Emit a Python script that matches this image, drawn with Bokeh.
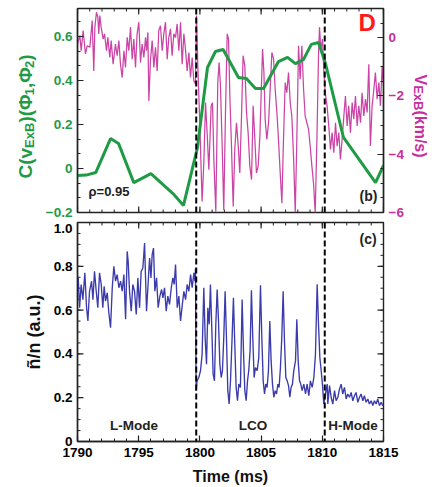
import numpy as np
from bokeh.plotting import figure
from bokeh.models import LinearAxis, Range1d, SingleIntervalTicker, FixedTicker, Span, Label
from bokeh.layouts import column, row
from bokeh.embed import file_html
from bokeh.resources import INLINE

# ---------------- data ----------------
# correlation C(vExB)(phi1,phi2)  (left axis, top panel)
t_corr = [1790.0, 1790.7, 1791.5, 1792.7, 1793.35, 1794.6, 1796.0, 1797.8, 1798.66, 1799.8,
          1800.62, 1801.27, 1801.9, 1803.15, 1803.8, 1804.54, 1805.2, 1806.42, 1807.16, 1807.8,
          1808.46, 1809.1, 1809.69, 1810.26, 1811.73, 1814.35, 1815.0]
c_corr = [-0.032, -0.03, -0.018, 0.136, 0.114, -0.064, -0.023, -0.114, -0.168, 0.095,
          0.459, 0.532, 0.541, 0.414, 0.409, 0.364, 0.364, 0.486, 0.505, 0.477,
          0.495, 0.564, 0.573, 0.477, 0.141, -0.064, 0.014]

# v_ExB (km/s)  (right axis, top panel)
t_v_L = [1790.0, 1790.19, 1790.30, 1790.46, 1790.65, 1790.79, 1791.01, 1791.20, 1791.33, 1791.42,
         1791.55, 1791.66, 1791.74, 1791.82, 1791.93, 1792.10, 1792.21, 1792.37, 1792.48, 1792.64,
         1792.75, 1792.91, 1793.10, 1793.24, 1793.38, 1793.51, 1793.65, 1793.79, 1793.92, 1794.06,
         1794.19, 1794.33, 1794.47, 1794.60, 1794.74, 1794.87, 1795.01, 1795.15, 1795.28, 1795.42,
         1795.56, 1795.64, 1795.75, 1795.83, 1795.96, 1796.10, 1796.24, 1796.37, 1796.51, 1796.64,
         1796.78, 1796.92, 1797.05, 1797.19, 1797.33, 1797.46, 1797.60, 1797.73, 1797.87, 1798.01,
         1798.14, 1798.28, 1798.42, 1798.55, 1798.69, 1798.82, 1798.96, 1799.10, 1799.23, 1799.37,
         1799.50, 1799.64]
v_L = [-0.22, 0.07, -0.45, 0.24, -0.56, -0.28, -0.33, 0.59, -1.14, 0.36,
       0.87, 0.70, 0.13, 0.76, 0.36, -0.05, 0.13, -0.45, 0.01, -0.68,
       -0.10, -0.91, -0.22, -0.62, -0.10, -0.91, -1.37, -0.45, -1.02, 0.01,
       -0.45, 0.36, -0.74, -0.05, -1.02, 0.13, 0.53, -0.85, -0.22, -0.68,
       0.01, -0.45, 0.18, -2.17, -0.79, -0.10, -1.02, -0.33, -1.14, 0.24,
       0.41, -0.45, 0.13, 0.53, -0.74, 0.01, 0.30, -0.62, 0.13, 0.01,
       0.47, -0.45, 0.53, -0.91, 0.13, -0.39, -1.14, -0.51, -1.37, -0.68,
       -1.48, -1.60]
t_v_LCO = [1799.72, 1799.83, 1799.99, 1800.18, 1800.32, 1800.46, 1800.59, 1800.73, 1800.92, 1801.03,
           1801.14, 1801.30, 1801.46, 1801.57, 1801.68, 1801.82, 1801.95, 1802.09, 1802.23, 1802.34,
           1802.44, 1802.58, 1802.72, 1802.85, 1802.99, 1803.13, 1803.26, 1803.40, 1803.53, 1803.67,
           1803.81, 1803.94, 1804.08, 1804.22, 1804.35, 1804.49, 1804.62, 1804.76, 1804.90,
           1805.12, 1805.23, 1805.33, 1805.47, 1805.61, 1805.74, 1805.88, 1806.02, 1806.15, 1806.29,
           1806.42, 1806.56, 1806.70, 1806.83, 1806.97, 1807.10, 1807.24, 1807.38, 1807.51, 1807.65,
           1807.79, 1807.92, 1808.06, 1808.19, 1808.33, 1808.47, 1808.60, 1808.74, 1808.88, 1809.01,
           1809.15, 1809.28, 1809.42, 1809.56, 1809.69, 1809.77, 1809.88, 1810.02, 1810.13, 1810.24]
v_LCO = [0.76, -0.97, -2.92, -5.62, -4.30, -2.23, -3.26, -4.53, -2.34, -2.23,
         -4.18, -5.97, -1.54, -0.85, -1.66, -3.72, -5.91, -2.57, 0.13, -0.05,
         -1.89, -3.72, -5.79, -3.84, -2.92, -3.72, -4.64, -2.69, -0.62, -0.97,
         -2.57, -3.26, -4.41, -4.87, -2.34, -3.49, -4.64, -4.41, -3.38,
         -0.39, -1.20, -2.80, -3.49, -2.92, -1.77, -0.51, -0.74, -1.77, -2.57,
         -3.49, -4.64, -5.68, -3.49, -1.54, -1.89, -1.20, -2.23, -2.69, -4.07,
         -6.0, -3.49, -0.28, -1.43, -0.28, -1.77, -2.69, -2.92, -3.15, -3.72,
         -4.41, -4.99, -6.0, -3.49, -0.62, 0.36, -0.39, -0.05, -1.20, -1.89]
t_v_H = [1810.39, 1810.53, 1810.67, 1810.80, 1810.94, 1811.08, 1811.21, 1811.35, 1811.48, 1811.62,
         1811.76, 1811.89, 1812.03, 1812.16, 1812.30, 1812.44, 1812.57, 1812.71, 1812.85, 1812.98,
         1813.12, 1813.25, 1813.39, 1813.53, 1813.66, 1813.80, 1813.93, 1814.07, 1814.21, 1814.34,
         1814.48, 1814.62, 1814.75, 1814.89, 1815.0]
v_H = [-2.34, -3.03, -3.84, -3.26, -3.95, -2.92, -3.72, -3.26, -4.18, -3.49,
       -2.69, -2.00, -3.03, -2.34, -3.26, -2.23, -2.80, -2.00, -3.03, -2.34,
       -2.92, -1.89, -2.69, -2.11, -2.57, -0.91, -3.72, -2.34, -1.77, -1.20,
       -2.11, -1.54, -2.34, -0.97, -1.66]

# density fluctuation n~/n (bottom panel)
t_n_L = [1790.0, 1790.06, 1790.17, 1790.30, 1790.44, 1790.60, 1790.74, 1790.85, 1790.98, 1791.15,
         1791.26, 1791.39, 1791.53, 1791.66, 1791.80, 1791.94, 1792.07, 1792.18, 1792.29, 1792.43,
         1792.56, 1792.70, 1792.84, 1792.97, 1793.11, 1793.24, 1793.38, 1793.52, 1793.65, 1793.79,
         1793.93, 1794.06, 1794.14, 1794.25, 1794.39, 1794.52, 1794.66, 1794.80, 1794.93, 1795.07,
         1795.20, 1795.34, 1795.48, 1795.56, 1795.64, 1795.78, 1795.89, 1796.00, 1796.10, 1796.21,
         1796.32, 1796.46, 1796.59, 1796.73, 1796.87, 1796.98, 1797.11, 1797.25, 1797.38, 1797.52,
         1797.66, 1797.79, 1797.90, 1798.01, 1798.15, 1798.28, 1798.42, 1798.55, 1798.69, 1798.83,
         1798.96, 1799.10, 1799.24, 1799.37, 1799.51, 1799.59, 1799.64]
n_L = [0.686, 0.747, 0.611, 0.717, 0.648, 0.770, 0.611, 0.55, 0.686, 0.732,
       0.648, 0.777, 0.686, 0.611, 0.770, 0.717, 0.611, 0.709, 0.641, 0.679,
       0.588, 0.520, 0.702, 0.80, 0.732, 0.762, 0.702, 0.732, 0.686, 0.762,
       0.558, 0.868, 0.823, 0.686, 0.595, 0.717, 0.686, 0.580, 0.747, 0.611,
       0.777, 0.792, 0.906, 0.747, 0.595, 0.732, 0.838, 0.747, 0.853, 0.883,
       0.686, 0.747, 0.611, 0.664, 0.694, 0.656, 0.702, 0.595, 0.664, 0.626,
       0.702, 0.747, 0.717, 0.808, 0.611, 0.664, 0.55, 0.618, 0.686, 0.648,
       0.717, 0.686, 0.762, 0.702, 0.770, 0.732, 0.79]
t_n_LCO = [1799.69, 1799.77, 1799.91, 1800.05, 1800.18, 1800.32, 1800.43, 1800.54, 1800.65, 1800.76,
           1800.86, 1800.97, 1801.08, 1801.19, 1801.30, 1801.41, 1801.52, 1801.63, 1801.74, 1801.84,
           1801.95, 1802.06, 1802.17, 1802.28, 1802.39, 1802.50, 1802.63, 1802.74, 1802.85, 1802.96,
           1803.07, 1803.18, 1803.31, 1803.45, 1803.56, 1803.67, 1803.78, 1803.89, 1803.99, 1804.10,
           1804.21, 1804.32, 1804.43, 1804.54, 1804.68, 1804.81, 1804.95, 1805.06, 1805.17, 1805.28,
           1805.38, 1805.49, 1805.60, 1805.71, 1805.82, 1805.93, 1806.04, 1806.15, 1806.26, 1806.37,
           1806.47, 1806.58, 1806.69, 1806.80, 1806.91, 1807.02, 1807.13, 1807.24, 1807.35, 1807.45,
           1807.56, 1807.67, 1807.81, 1807.92, 1808.03, 1808.14, 1808.24, 1808.35, 1808.49, 1808.63,
           1808.76, 1808.90, 1809.03, 1809.17, 1809.31, 1809.44, 1809.58, 1809.69, 1809.80, 1809.91,
           1810.01, 1810.12, 1810.26, 1810.40]
n_LCO = [0.232, 0.277, 0.292, 0.323, 0.398, 0.702, 0.474, 0.353, 0.611, 0.535,
         0.717, 0.520, 0.308, 0.277, 0.535, 0.694, 0.55, 0.353, 0.292, 0.323,
         0.474, 0.686, 0.474, 0.232, 0.171, 0.277, 0.474, 0.656, 0.444, 0.247,
         0.186, 0.262, 0.247, 0.648, 0.414, 0.232, 0.186, 0.277, 0.323, 0.414,
         0.690, 0.474, 0.292, 0.338, 0.323, 0.383, 0.713, 0.474, 0.277, 0.217,
         0.262, 0.247, 0.323, 0.55, 0.368, 0.262, 0.202, 0.232, 0.217, 0.262,
         0.247, 0.338, 0.474, 0.686, 0.459, 0.292, 0.277, 0.255, 0.202, 0.247,
         0.262, 0.323, 0.368, 0.558, 0.368, 0.277, 0.262, 0.232, 0.262, 0.217,
         0.262, 0.209, 0.277, 0.247, 0.292, 0.398, 0.718, 0.535, 0.383, 0.323,
         0.262, 0.171, 0.217, 0.262]
t_n_H = [1810.45, 1810.59, 1810.72, 1810.86, 1811.0, 1811.13, 1811.27, 1811.40, 1811.54, 1811.67,
         1811.81, 1811.95, 1812.08, 1812.22, 1812.36, 1812.49, 1812.63, 1812.76, 1812.90, 1813.04,
         1813.17, 1813.31, 1813.44, 1813.58, 1813.72, 1813.85, 1813.99, 1814.13, 1814.26, 1814.40,
         1814.53, 1814.67, 1814.81, 1814.94, 1815.0]
n_H = [0.171, 0.255, 0.202, 0.171, 0.232, 0.186, 0.202, 0.239, 0.262, 0.217,
       0.247, 0.194, 0.217, 0.202, 0.224, 0.186, 0.209, 0.224, 0.179, 0.202,
       0.217, 0.186, 0.209, 0.179, 0.194, 0.171, 0.186, 0.164, 0.186, 0.171,
       0.194, 0.164, 0.179, 0.164, 0.171]

transitions = [1799.7, 1810.2]
x_major = [1790, 1795, 1800, 1805, 1810, 1815]
x_minor = list(range(1790, 1816))
n_major = [0.0, 0.2, 0.4, 0.6, 0.8, 1.0]
n_minor = [round(0.05 * i, 2) for i in range(21)]
n_tick_labels = ["0", "0.2", "0.4", "0.6", "0.8", "1.0"]
# ---------------------------------------------------------------

t_v = np.concatenate([t_v_L, t_v_LCO, t_v_H])
v_all = np.concatenate([v_L, v_LCO, v_H])
t_n = np.concatenate([t_n_L, t_n_LCO, t_n_H])
n_all = np.concatenate([n_L, n_LCO, n_H])

FONT = "Liberation Sans"
GREEN = "#1f9a45"
MAG = "#c4309c"
BLUE = "#3b3bac"
INK = "#222222"

X0, X1 = 1790, 1815
TL = (-0.2, 0.72727)
TR = (-6.0, 1.0)
BL = (0.0, 1.0)

FW, FH_TOP, FH_BOT = 306, 204, 219
LEFT, RIGHT = 77, 54
P1_LEFT, P1_RIGHT = 40, 28         # borders of the top figure (room for its tick labels)
STRIP_L, STRIP_R = LEFT - P1_LEFT, RIGHT - P1_RIGHT   # side strips holding the rotated titles
TOP1, BOT1 = 8, 8                  # top figure borders  -> canvas height 220
TOP2, BOT2 = 2, 46                 # bottom figure borders -> canvas height 267
H1 = TOP1 + FH_TOP + BOT1
H2 = TOP2 + FH_BOT + BOT2


def px2x(px):
    return X0 + (px - LEFT) * (X1 - X0) / FW


def py2top(py):
    return TL[0] + (TOP1 + FH_TOP - py) * (TL[1] - TL[0]) / FH_TOP


def py2bot(py):
    return BL[0] + (H1 + TOP2 + FH_BOT - py) * (BL[1] - BL[0]) / FH_BOT


def style(ax, color="black", size="13.5px"):
    ax.major_tick_in = 6
    ax.major_tick_out = 0
    ax.minor_tick_in = 3
    ax.minor_tick_out = 0
    ax.axis_line_width = 1.4
    ax.axis_line_color = INK
    ax.major_tick_line_color = INK
    ax.minor_tick_line_color = INK
    ax.major_tick_line_width = 1.2
    ax.minor_tick_line_width = 1.0
    ax.major_label_text_font = FONT
    ax.major_label_text_font_style = "bold"
    ax.major_label_text_font_size = size
    ax.major_label_text_color = color
    ax.major_label_standoff = 5


def base_fig(fh, left, right, top, bottom, yr):
    p = figure(frame_width=FW, frame_height=fh, output_backend="svg", toolbar_location=None,
               x_range=Range1d(X0, X1), y_range=Range1d(*yr),
               x_axis_location=None, y_axis_location=None,
               min_border_left=left, min_border_right=right,
               min_border_top=top, min_border_bottom=bottom,
               background_fill_color="white", border_fill_color="white",
               outline_line_color=INK, outline_line_width=1.4)
    p.xgrid.visible = False
    p.ygrid.visible = False
    return p


def strip_fig(x_start, width, height):
    s = figure(frame_width=width, frame_height=height, output_backend="svg", toolbar_location=None,
               x_range=Range1d(x_start, x_start + width), y_range=Range1d(height, 0),
               x_axis_location=None, y_axis_location=None,
               min_border_left=0, min_border_right=0, min_border_top=0, min_border_bottom=0,
               background_fill_color="white", border_fill_color="white", outline_line_color=None)
    s.xgrid.visible = False
    s.ygrid.visible = False
    return s


def x_edge_ticks(p, yr, fh, top=True, bottom=True):
    """inward tick marks along the top / bottom edges (no labels)"""
    k = (yr[1] - yr[0]) / fh
    for ticks, ln, lw in ((x_minor, 3, 1.0), (x_major, 6, 1.2)):
        xs = np.array(ticks, dtype=float)
        if top:
            p.segment(xs, yr[1], xs, yr[1] - ln * k, line_color=INK, line_width=lw)
        if bottom:
            p.segment(xs, yr[0], xs, yr[0] + ln * k, line_color=INK, line_width=lw)


# ---------------- top panel ----------------
p1 = base_fig(FH_TOP, P1_LEFT, P1_RIGHT, TOP1, BOT1, TL)
p1.extra_y_ranges = {"v": Range1d(*TR)}

ax = LinearAxis(ticker=SingleIntervalTicker(interval=0.2, num_minor_ticks=3))
style(ax, GREEN)
ax.major_label_overrides = {0: "0"}
p1.add_layout(ax, "left")
ax = LinearAxis(y_range_name="v", ticker=SingleIntervalTicker(interval=2, num_minor_ticks=4))
style(ax, MAG)
p1.add_layout(ax, "right")
x_edge_ticks(p1, TL, FH_TOP)

p1.line(t_v, v_all, y_range_name="v", line_color=MAG, line_width=1.25, line_alpha=0.9)
p1.line(t_corr, c_corr, line_color=GREEN, line_width=3)
for t in transitions:
    p1.add_layout(Span(location=t, dimension="height", line_color="black",
                       line_width=2, line_dash="6 3"))

p1.add_layout(Label(x=px2x(358), y=py2top(35), text="D", text_color="#ff1a1a",
                    text_font=FONT, text_font_style="bold", text_font_size="24px"))
p1.add_layout(Label(x=px2x(359), y=py2top(203), text="(b)", text_color=INK,
                    text_font=FONT, text_font_style="bold", text_font_size="14px"))
p1.add_layout(Label(x=px2x(88), y=py2top(198), text="ρ=0.95", text_color=INK,
                    text_font=FONT, text_font_style="bold", text_font_size="13px"))

# composite axis titles (with subscripts) live in narrow strips beside the top panel
W = {"C": .722, "(": .333, ")": .333, "v": .556, "V": .667, "E": .667, "x": .556, "B": .722,
     "Φ": .778, "1": .556, "2": .556, ",": .278, " ": .278, "k": .556, "m": .889, "/": .278,
     "s": .556}


def tw(s, size):
    return sum(W.get(c, .556) for c in s) * size


sL = strip_fig(0, STRIP_L, H1)
left_parts = [("C(v", 19, False), ("ExB", 13, True), (")(Φ", 19, False), ("1", 13, True),
              (",Φ", 19, False), ("2", 13, True), (")", 19, False)]
py = 170
for txt, sz, sub in left_parts:
    sL.add_layout(Label(x=STRIP_L - 8 if sub else STRIP_L - 12, y=py, text=txt, angle=np.pi / 2,
                        text_color=GREEN, text_font=FONT, text_font_style="bold",
                        text_font_size=f"{sz}px", text_align="left", text_baseline="alphabetic"))
    py -= tw(txt, sz)

xr0 = LEFT + FW + P1_RIGHT
sR = strip_fig(xr0, STRIP_R, H1)
right_parts = [("V", 16, False), ("ExB", 13, True), (" (km/s)", 16, False)]
py = 66
for txt, sz, sub in right_parts:
    sR.add_layout(Label(x=xr0 + 7 if sub else xr0 + 9, y=py, text=txt, angle=-np.pi / 2,
                        text_color=MAG, text_font=FONT, text_font_style="bold",
                        text_font_size=f"{sz}px", text_align="left", text_baseline="alphabetic"))
    py += tw(txt, sz)

# ---------------- bottom panel ----------------
p2 = base_fig(FH_BOT, LEFT, RIGHT, TOP2, BOT2, BL)
# the top label ("1.0") is drawn a few pixels below its tick, as in the reference
label_pos = n_major[:-1] + [n_major[-1] - 5.5 / FH_BOT]
ax = LinearAxis(ticker=FixedTicker(ticks=label_pos, minor_ticks=[]), axis_label="ñ/n (a.u.)")
style(ax)
ax.major_tick_line_color = None
ax.major_label_overrides = {v: s for v, s in zip(label_pos, n_tick_labels)}
ax.axis_label_text_font = FONT
ax.axis_label_text_font_style = "bold"
ax.axis_label_text_font_size = "18px"
ax.axis_label_text_color = "#111111"
ax.axis_label_standoff = 7
p2.add_layout(ax, "left")
ax = LinearAxis(ticker=SingleIntervalTicker(interval=5, num_minor_ticks=5),
                axis_label="Time (ms)")
style(ax)
ax.major_label_standoff = 6
ax.axis_label_text_font = FONT
ax.axis_label_text_font_style = "bold"
ax.axis_label_text_font_size = "16px"
ax.axis_label_text_color = "#111111"
ax.axis_label_standoff = 8
p2.add_layout(ax, "below")
x_edge_ticks(p2, BL, FH_BOT, top=True, bottom=False)
# left / right edge ticks
kx = (X1 - X0) / FW
for ticks, ln, lw in ((n_minor, 3, 1.0), (n_major, 6, 1.2)):
    ys = np.array(ticks, dtype=float)
    p2.segment(X1, ys, X1 - ln * kx, ys, line_color=INK, line_width=lw)
    p2.segment(X0, ys, X0 + ln * kx, ys, line_color=INK, line_width=lw)

p2.line(t_n, n_all, line_color=BLUE, line_width=1.35)
for t in transitions:
    p2.add_layout(Span(location=t, dimension="height", line_color="black",
                       line_width=2, line_dash="6 3"))

p2.add_layout(Label(x=px2x(359), y=py2bot(246), text="(c)", text_color=INK,
                    text_font=FONT, text_font_style="bold", text_font_size="14px"))
for txt, cx in (("L-Mode", 133.5), ("LCO", 252.5), ("H-Mode", 352.5)):
    p2.add_layout(Label(x=px2x(cx), y=py2bot(432), text=txt, text_align="center",
                        text_color=INK, text_font=FONT, text_font_style="bold",
                        text_font_size="13.5px"))

layout = column(row(sL, p1, sR, spacing=0), p2, spacing=0)
open("out.html", "w").write(file_html(layout, INLINE))
